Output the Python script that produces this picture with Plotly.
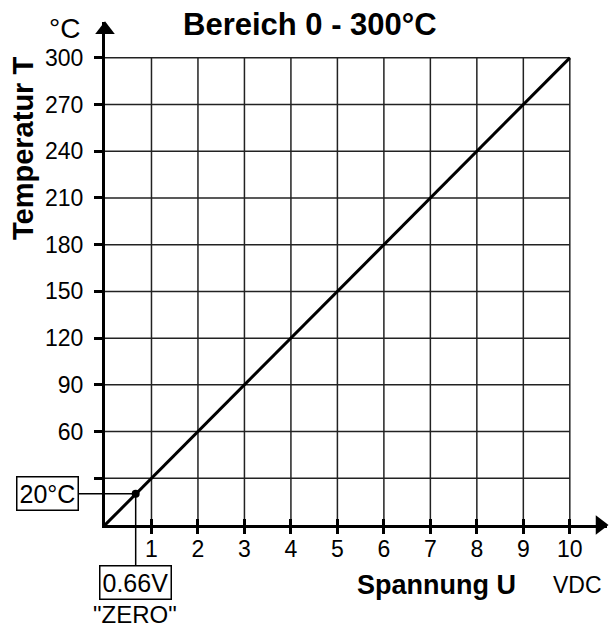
import plotly.graph_objects as go

# Axis values
voltage_ticks = [1, 2, 3, 4, 5, 6, 7, 8, 9, 10]
temp_ticks = [30, 60, 90, 120, 150, 180, 210, 240, 270, 300]
temp_tick_text = ["", "60", "90", "120", "150", "180", "210", "240", "270", "300"]

# Characteristic: linear 0..10 V -> 0..300 °C
line_u = [0, 10]
line_t = [0, 300]

# Zero point
zero_u = 0.66
zero_t = 20

X_MAX = 10.8
Y_MAX = 323

W, H = 612, 629
ML, MR, MT, MB = 105, 5, 22, 104
PW = W - ML - MR
PH = H - MT - MB


def px(xp):
    return (xp - ML) / PW


def py(yp):
    return (H - MB - yp) / PH


FONT = "Liberation Sans, Arial, sans-serif"
INK = "#000000"
GRID = "#222222"

fig = go.Figure()

# Grid lines, bounded by the last tick on each axis
gx, gy = [], []
for v in voltage_ticks:
    gx += [v, v, None]
    gy += [0, temp_ticks[-1], None]
for t in temp_ticks:
    gx += [0, voltage_ticks[-1], None]
    gy += [t, t, None]
fig.add_trace(go.Scatter(x=gx, y=gy, mode="lines",
                         line=dict(color=GRID, width=1.5),
                         hoverinfo="skip", showlegend=False))

# Characteristic line
fig.add_trace(go.Scatter(x=line_u, y=line_t, mode="lines",
                         line=dict(color=INK, width=3),
                         showlegend=False))

# Zero point marker
fig.add_trace(go.Scatter(x=[zero_u], y=[zero_t], mode="markers",
                         marker=dict(color=INK, size=8),
                         showlegend=False, cliponaxis=False))

# Axis arrow heads
fig.add_trace(go.Scatter(x=[0], y=[Y_MAX - 5], mode="markers",
                         marker=dict(symbol="triangle-up", size=17, color=INK),
                         showlegend=False, cliponaxis=False, hoverinfo="skip"))
fig.add_trace(go.Scatter(x=[X_MAX - 0.15], y=[0], mode="markers",
                         marker=dict(symbol="triangle-right", size=17, color=INK),
                         showlegend=False, cliponaxis=False, hoverinfo="skip"))


def label(xp, yp, text, size, xanchor="center", angle=0):
    return dict(x=px(xp), y=py(yp), xref="paper", yref="paper",
                xanchor=xanchor, yanchor="middle", text=text,
                showarrow=False, textangle=angle,
                font=dict(family=FONT, size=size, color=INK))


annotations = [
    dict(x=zero_u, y=zero_t, xref="x", yref="y", text="20°C",
         showarrow=True, arrowhead=0, arrowwidth=1.5, arrowcolor=INK,
         ax=-88, ay=0, bordercolor=INK, borderwidth=1.5, borderpad=2,
         bgcolor="white", font=dict(family=FONT, size=25, color=INK)),
    dict(x=zero_u, y=zero_t, xref="x", yref="y", text="0.66V",
         showarrow=True, arrowhead=0, arrowwidth=1.5, arrowcolor=INK,
         ax=0, ay=89, bordercolor=INK, borderwidth=1.5, borderpad=2,
         bgcolor="white", font=dict(family=FONT, size=25, color=INK)),
    dict(x=zero_u, y=zero_t, xref="x", yref="y", text='"ZERO"',
         showarrow=False, yshift=-121, xshift=-1, yanchor="middle",
         font=dict(family=FONT, size=24, color=INK)),
    label(310, 24, "<b>Bereich 0 - 300°C</b>", 31),
    label(64, 28, "°C", 28),
    label(23, 149, "<b>Temperatur T</b>", 29, angle=-90),
    label(518, 585, "<b>Spannung U</b>", 27, xanchor="right"),
    label(551, 585, "VDC", 23, xanchor="left"),
]

fig.update_layout(
    width=W, height=H,
    margin=dict(l=ML, r=MR, t=MT, b=MB, pad=0),
    paper_bgcolor="white", plot_bgcolor="white",
    font=dict(family=FONT, color=INK),
    annotations=annotations,
    showlegend=False,
)

fig.update_xaxes(
    range=[0, X_MAX], showgrid=False, zeroline=False,
    showline=True, linecolor=INK, linewidth=3,
    tickmode="array", tickvals=voltage_ticks,
    ticks="outside", ticklen=6, tickwidth=3, tickcolor=INK,
    minor=dict(ticks="inside", tickmode="array", tickvals=voltage_ticks,
               ticklen=6, tickwidth=3, tickcolor=INK, showgrid=False),
    tickfont=dict(family=FONT, size=23, color=INK),
    ticklabelstandoff=-5,
)
fig.update_yaxes(
    range=[0, Y_MAX], showgrid=False, zeroline=False,
    showline=True, linecolor=INK, linewidth=3,
    tickmode="array", tickvals=temp_ticks, ticktext=temp_tick_text,
    ticks="outside", ticklen=8, tickwidth=3, tickcolor=INK,
    tickfont=dict(family=FONT, size=23, color=INK),
    ticklabelstandoff=6,
)

fig.write_html("out.html")
